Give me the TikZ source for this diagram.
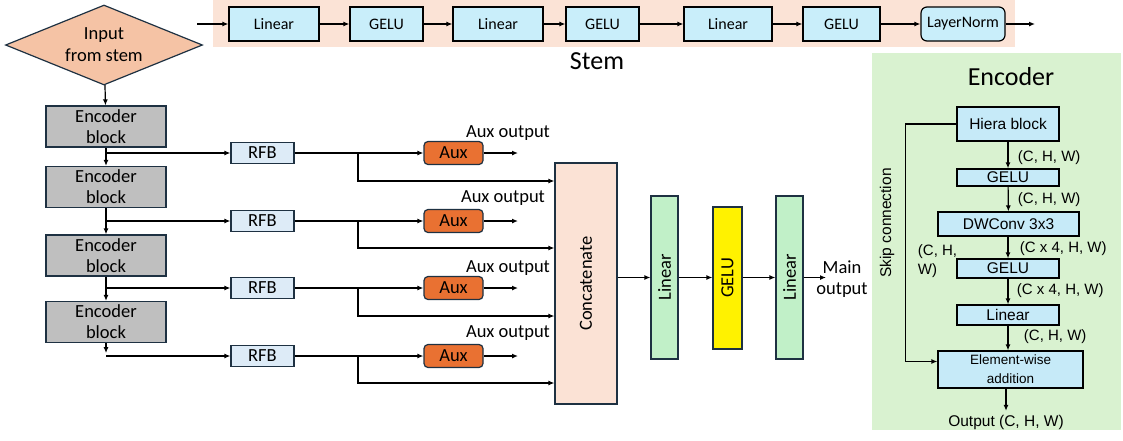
\documentclass[tikz,border=0pt]{standalone}
\usepackage{fontspec}
\setmainfont{Carlito}
\newfontfamily\arialfont{Liberation Sans}
\usetikzlibrary{shapes.geometric,arrows.meta}

\definecolor{edgeblue}{HTML}{1E3142}
\definecolor{stembg}{HTML}{FBE3D6}
\definecolor{encbg}{HTML}{D9F2D0}
\definecolor{stemcyan}{HTML}{C9EEFA}
\definecolor{diafill}{HTML}{F5C3A5}
\definecolor{blockgray}{HTML}{BFBFBF}
\definecolor{rfbblue}{HTML}{DDEBF7}
\definecolor{auxorange}{HTML}{E97132}
\definecolor{concatfill}{HTML}{FBE2D5}
\definecolor{headgreen}{HTML}{C1F0C8}
\definecolor{panelblue}{HTML}{C6EAF8}

\newcommand{\mainfs}{\fontsize{18.5}{21}\selectfont}
\newcommand{\stemfs}{\fontsize{16}{19}\selectfont}
\newcommand{\titlefs}{\fontsize{26}{30}\selectfont}
\newcommand{\panelfs}{\arialfont\fontsize{15.5}{18}\selectfont}
\newcommand{\shapefs}{\arialfont\fontsize{15}{19}\selectfont}

\tikzset{
  stembox/.style={draw=black, fill=stemcyan, minimum height=34pt, inner sep=0pt, font=\stemfs},
  encblock/.style={draw=edgeblue, fill=blockgray, minimum width=120pt, minimum height=41pt, inner sep=0pt, align=center, font=\mainfs},
  rfbbox/.style={draw=edgeblue, fill=rfbblue, minimum width=63pt, minimum height=21pt, inner sep=0pt, font=\mainfs},
  auxbox/.style={draw=edgeblue, fill=auxorange, rounded corners=4pt, minimum width=59pt, minimum height=23pt, inner sep=0pt, font=\mainfs},
  headbox/.style={draw=edgeblue, minimum width=27pt, minimum height=163pt, inner sep=0pt},
  panelbox/.style={draw=black, fill=panelblue, minimum width=102pt, inner sep=0pt, font=\panelfs},
}

\begin{document}
\begin{tikzpicture}[x=1pt,y=-1pt,line width=1.2pt,>={Latex[length=6pt,width=5pt]}]
\useasboundingbox (0,0) rectangle (1123,440);

% backgrounds
\fill[stembg] (213,0) rectangle (1015,47);
\fill[encbg] (872,53) rectangle (1121,430);
\node[font=\titlefs] (stemlbl) at (597,61) {Stem};
\node[font=\titlefs] (enctitle) at (1011,77) {Encoder};

% stem chain
\coordinate (stemin) at (197,24);
\node[stembox, minimum width=90pt] (s1) at (274,24) {Linear};
\node[stembox, minimum width=73pt] (s2) at (386.5,24) {GELU};
\node[stembox, minimum width=90pt] (s3) at (498,24) {Linear};
\node[stembox, minimum width=73pt] (s4) at (602.5,24) {GELU};
\node[stembox, minimum width=88pt] (s5) at (728,24) {Linear};
\node[stembox, minimum width=77pt] (s6) at (841.5,24) {GELU};
\node[stembox, minimum width=84pt, rounded corners=6pt] (s7) at (963,24) {LayerNorm};
\coordinate (stemout) at (1035,24);
\draw[->] (stemin) -- (s1);
\draw[->] (s1) -- (s2);
\draw[->] (s2) -- (s3);
\draw[->] (s3) -- (s4);
\draw[->] (s4) -- (s5);
\draw[->] (s5) -- (s6);
\draw[->] (s6) -- (s7);
\draw[->] (s7) -- (stemout);

% input and encoder blocks
\node[diamond, draw=edgeblue, fill=diafill, minimum width=197pt, minimum height=80pt, aspect=2.46, inner sep=0pt, align=center, font=\fontsize{18.5}{22}\selectfont] (input) at (104,45) {Input\\from stem};
\node[encblock] (eb1) at (106,126.5) {Encoder\\block};
\node[encblock] (eb2) at (106,187) {Encoder\\block};
\node[encblock] (eb3) at (106,255.5) {Encoder\\block};
\node[encblock] (eb4) at (106,322) {Encoder\\block};
\draw[->] (input) -- (eb1);
\draw[->] (eb1) -- (eb2);
\draw[->] (eb2) -- (eb3);
\draw[->] (eb3) -- (eb4);
\draw[->] (eb4.south) -- ++(0,10);

% RFB and aux heads
\node[rfbbox] (rfb1) at (262.5,153) {RFB};
\node[rfbbox] (rfb2) at (262.5,221) {RFB};
\node[rfbbox] (rfb3) at (262.5,288) {RFB};
\node[rfbbox] (rfb4) at (262.5,356) {RFB};
\draw[->] (eb1.south |- rfb1) -- (rfb1);
\draw[->] (eb2.south |- rfb2) -- (rfb2);
\draw[->] (eb3.south |- rfb3) -- (rfb3);
\draw[->] (eb4.south |- rfb4) -- (rfb4);

\node[auxbox] (aux1) at (453.5,153) {Aux};
\node[auxbox] (aux2) at (453.5,221) {Aux};
\node[auxbox] (aux3) at (453.5,288) {Aux};
\node[auxbox] (aux4) at (453.5,356) {Aux};
\draw[->] (rfb1) -- (aux1);
\draw[->] (rfb2) -- (aux2);
\draw[->] (rfb3) -- (aux3);
\draw[->] (rfb4) -- (aux4);

\coordinate (aoe1) at (518,153);
\coordinate (aoe2) at (518,221);
\coordinate (aoe3) at (518,288);
\coordinate (aoe4) at (518,356);
\draw[->] (aux1) -- (aoe1);
\draw[->] (aux2) -- (aoe2);
\draw[->] (aux3) -- (aoe3);
\draw[->] (aux4) -- (aoe4);
\node[font=\mainfs] (ao1) at (508,133) {Aux output};
\node[font=\mainfs] (ao2) at (503,198) {Aux output};
\node[font=\mainfs] (ao3) at (508,268) {Aux output};
\node[font=\mainfs] (ao4) at (508,333) {Aux output};

% concatenate and head
\node[draw=edgeblue, fill=concatfill, minimum width=62pt, minimum height=241pt, inner sep=0pt] (concat) at (586,283.5) {};
\node[rotate=90, font=\mainfs] (concatlbl) at (concat) {Concatenate};
\coordinate (br1) at (358,153);
\coordinate (br2) at (358,221);
\coordinate (br3) at (358,288);
\coordinate (br4) at (358,356);
\draw[->] (br1) |- (concat.west |- 0,181);
\draw[->] (br2) |- (concat.west |- 0,248);
\draw[->] (br3) |- (concat.west |- 0,316);
\draw[->] (br4) |- (concat.west |- 0,383);

\node[headbox, fill=headgreen] (lin1) at (664.5,277.5) {};
\node[headbox, fill=yellow, minimum width=29pt, minimum height=142pt] (gelu) at (727.5,278) {};
\node[headbox, fill=headgreen] (lin2) at (789.5,277.5) {};
\node[rotate=90, font=\mainfs] at (lin1) {Linear};
\node[rotate=90, font=\mainfs] at (gelu) {GELU};
\node[rotate=90, font=\mainfs] at (lin2) {Linear};
\coordinate (mainend) at (826,277.5);
\draw[->] (concat.east |- lin1) -- (lin1);
\draw[->] (lin1) -- (gelu.west |- lin1);
\draw[->] (gelu.east |- lin2) -- (lin2);
\draw[->] (lin2) -- (mainend);
\node[font=\mainfs, align=center, inner sep=0pt] (mainout) at (842,279) {Main\\output};

% encoder panel
\node[panelbox, minimum height=34pt] (hiera) at (1008,124) {Hiera block};
\node[panelbox, minimum height=17pt] (pg1) at (1008,177.5) {GELU};
\node[panelbox, minimum width=141pt, minimum height=24pt] (dwconv) at (1008.5,224) {DWConv 3x3};
\node[panelbox, minimum height=19pt] (pg2) at (1008,268.5) {GELU};
\node[panelbox, minimum height=20pt] (plin) at (1008,315) {Linear};
\node[panelbox, minimum width=145pt, minimum height=37pt, align=center, font=\arialfont\fontsize{13.5}{19}\selectfont] (addn) at (1010.5,369.5) {Element-wise\\addition};
\node[font=\panelfs] (outtxt) at (1006,422) {Output (C, H, W)};
\draw[->] (hiera) -- (pg1);
\draw[->] (pg1) -- (dwconv);
\draw[->] (dwconv.south -| pg1) -- (pg2);
\draw[->] (pg2) -- (plin);
\draw[->] (plin) -- (plin |- addn.north);
\draw[->] (addn.south -| outtxt) -- (outtxt);
\node[anchor=west, font=\shapefs] (d1) at (1014,158) {(C, H, W)};
\node[anchor=west, font=\shapefs] (d2) at (1014,200) {(C, H, W)};
\node[anchor=west, font=\shapefs] (d3) at (1016,249) {(C x 4, H, W)};
\node[anchor=west, font=\shapefs] (d4) at (1013,291) {(C x 4, H, W)};
\node[anchor=west, font=\shapefs] (d5) at (1020,337) {(C, H, W)};
\node[anchor=west, align=left, font=\shapefs] (d6) at (914,261) {(C, H,\\W)};

% skip connection
\coordinate (skipin) at ([yshift=8pt]addn.west);
\draw[->] (hiera.west) -- ++(-51,0) |- (skipin);
\node[rotate=90, font=\panelfs] (skiplbl) at (887,223) {Skip connection};
\end{tikzpicture}
\end{document}
